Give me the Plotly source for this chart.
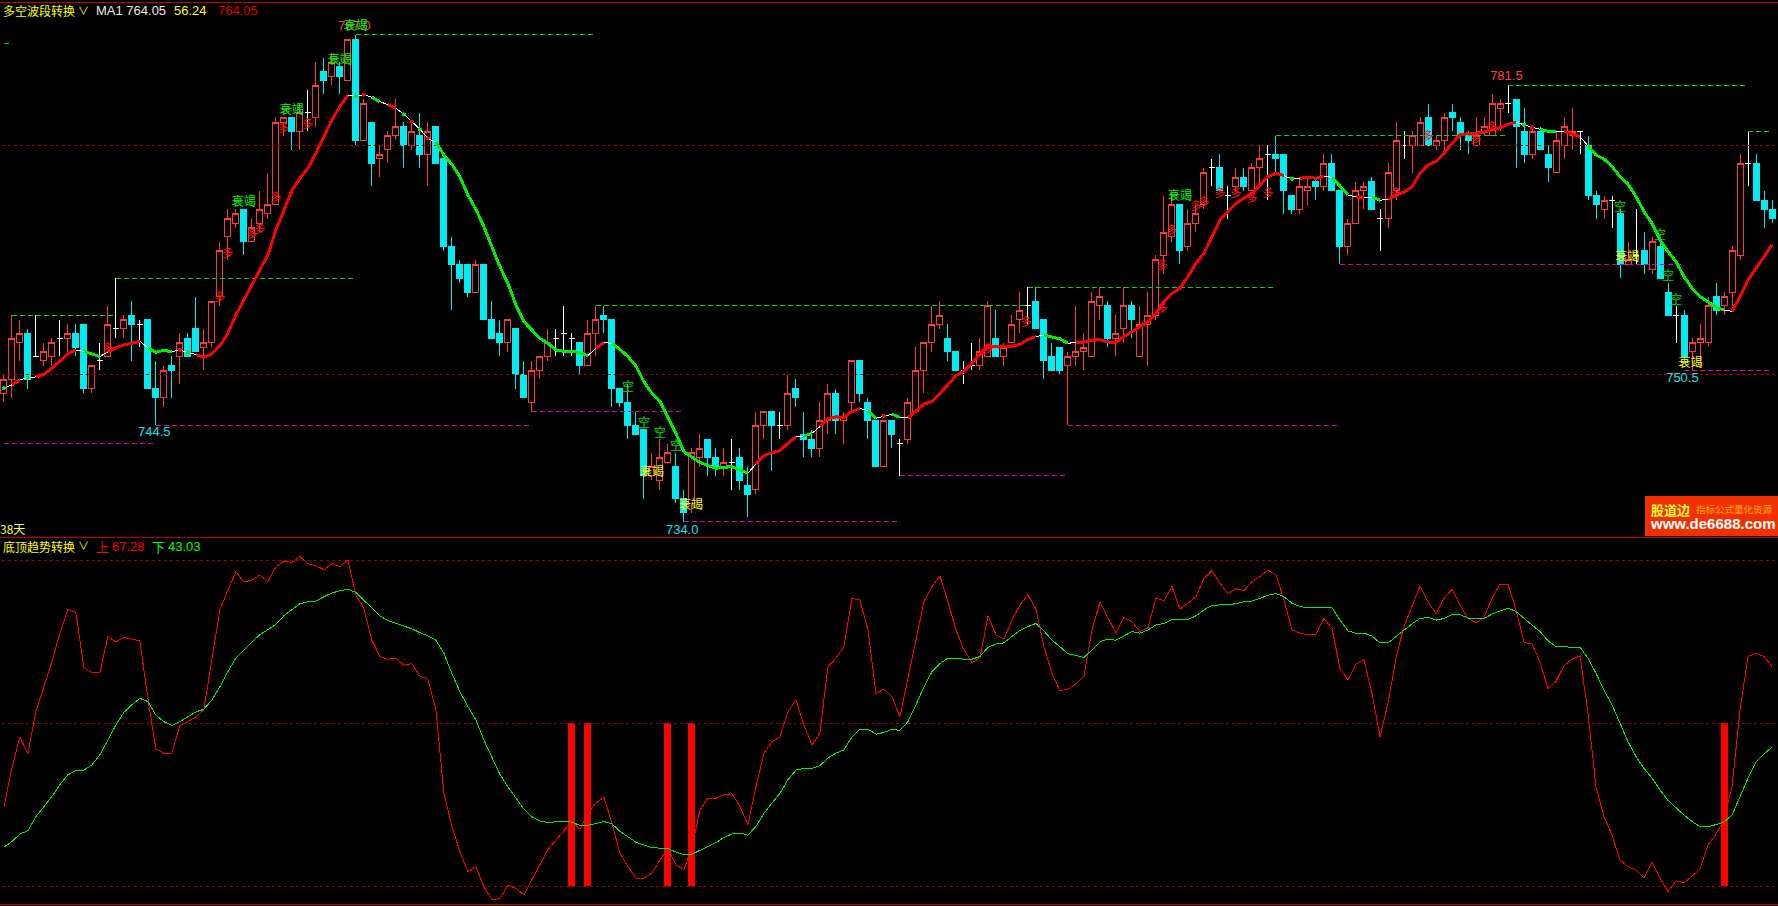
import plotly.graph_objects as go

W, H = 1778, 906
SPLIT = 537.6  # pixel row of the divider between the two panels

# ---------- candles (price) ----------
opens = [748,749.5,753.5,754.5,752,751.5,752,754,754,754.5,
755.5,748.5,751.5,752,755,755,756.5,755.5,756,748.5,
747.5,751,752,754,755,753,753.5,758.5,765,766.5,
768,764.5,766.5,767.5,768.5,777.5,778,776.5,778.5,778,
783,782.5,783.5,782,786.5,775.5,777.5,773.5,774.5,776,
777,775,776,774,777,773.5,764,762,762,759,
762,756,754.5,753.5,755,750,747,750.5,752,754,
754.5,754,753.5,751,754.5,756.5,756,748.5,747,744.5,
744,739,738.5,740.5,740,736.5,736,741,743,741,
740,740.5,741,738,737.5,744.5,746,744.5,744.5,748.5,
743.5,743,742,745,748,745,747,751.5,747,745,
740,745,742.5,743,746,750.5,753.5,755.5,754,752.5,
750.5,751,751,752,754,752,753.5,756,757.5,758,
756,752,753,751,752,752.5,752,757.5,757.5,754,
755,757.5,752,755.5,756.5,763,765,768.5,764,766.5,
768.5,772.5,772.5,769.5,770.5,771.5,770,772.5,774,774,
774,769.5,768,770,771,770.5,773,770,764,766.5,
770,771,767,767,770,775,775,775,778,775,
775.5,778.5,777.5,776,775,776.5,776,779,779.5,780,
776.5,774,776.5,774,772,775,776,776.5,775,769.5,
768,769,767.5,762,763,763.5,761.5,764,759,756.5,
756.5,752.5,753.5,753.5,758.5,757.5,759,763,773,773,
769,768]
highs = [750,756.5,756,755,756.5,753.5,754,756,755.5,755.5,
755.5,751,753.5,757.5,760.5,756.5,758,756,756,751.5,
751,752,754.5,754.5,758.5,755,758,764.5,768,768,
768,767,770,772,778,778,778,779.5,781,784,
784.5,785,784,786.5,787,780,777.5,775,776.5,780,
777.5,777.5,778.5,777.5,777,773.5,765,762.5,762,762.5,
762,758,756,756,755,751.5,751.5,752,755,755,
757.5,754.5,753.5,756,757.5,757.5,756,748.5,749,746,
744,741.5,743,742.5,741.5,737.5,742,743.5,743,742,
742,743,742,740,746,746,746,746,750,749.5,
746,744,747,749,748.5,746,751.5,751.5,747.5,745,
745,745,743,747.5,753,753.5,757.5,758,755.5,752.5,
751.5,753.5,754,758,757,753.5,756.5,759,759.5,759.5,
756,753.5,753,752.5,757.5,754.5,759,759.5,758,756.5,
759.5,758,757.5,759,763,769.5,770,768.5,768,768.5,
772.5,773.5,774,770.5,772.5,772.5,773,775,775,776,
774,769.5,771.5,771.5,771.5,774,774,770,767,771,
771,771.5,768,773,777.5,776.5,776.5,778,779.5,776,
778.5,779.5,778,776.5,778,778,780.5,780,781.5,780,
779,777,777,775,776.5,778,779,776.5,776,770,
769.5,769.5,768,764.5,768,765.5,765,765,760,757.5,
757,754,755.5,758.5,760,759,764,774,776.5,774,
770,769]
lows = [747,747.5,751.5,748.5,752,751,751,752,752.5,752,
748,748,750.5,752,754,754,751.5,753,748.5,744.5,
746.5,747.5,749,752,752.5,750.5,753,757.5,762.5,766,
763,764.5,765.5,767,768.5,776,774.5,774.5,776.5,777,
780.5,781.5,780.5,782,775,775.5,770.5,771.5,773,775.5,
772.5,774.5,772.5,770.5,773,763.5,757,760,758.5,759,
756,754,752,752.5,748.5,747.5,746,749.5,751.5,752,
752,752,750,751,752,754.5,746.5,746.5,743,743.5,
736.5,738.5,737.5,740.5,736,734,735,740,739,739,
739,737.5,737.5,734.5,737,743,739.5,743,744,746.5,
741,741,741,743.5,743.5,742.5,746,747,743,740,
740,742,739,742.5,746,748,752.5,755,751.5,750.5,
749,750.5,750.5,752,752,751,753.5,754.5,755.5,755,
749.5,750.5,750,744.5,751,750.5,752,756,753,752,
753.5,754,752,751,756,761,764.5,762,763.5,765.5,
768,770.5,770,767,770,770,770,770.5,769,772,
767.5,767.5,767.5,768.5,769,770,770,762,763,766.5,
768,768,763.5,766,769,773.5,772,775,775,774.5,
774.5,776.5,774.5,774,775,776,776,776.5,778.5,772.5,
773,773.5,774.5,771,772,773.5,774.5,774,769,767,
767,766,760.5,762,762,761,761,760.5,756.5,753.5,
751.5,750.5,751,753,756.5,756.5,757.5,762.5,770.5,769,
766,766.5]
closes = [749.5,754,754.5,749.5,752,752.5,753.5,754,754.5,753,
748.5,751,751.5,755.5,755,756,755.5,755.5,748.5,747.5,
750.5,750.5,753.5,752,752.5,753.5,758,763.5,767,767.5,
764.5,766,768,768.5,777.5,778,776.5,778.5,778.5,781.5,
782,784,782.5,786.5,775.5,779.5,773,774,776,777,
775,776.5,774,776.5,773,764,762,760.5,759,762,
756,754,753.5,756,750,747.5,750.5,752,753.5,754,
754.5,754,751,754.5,756,756,748.5,747,744.5,743.5,
739,740,741,741.5,736.5,735,741.5,742,741,740,
740.5,740.5,738.5,737,744.5,746,744.5,744.5,748,747.5,
743,742,745,748,745,745.5,751.5,748,745,740,
745,743.5,742.5,747,750.5,753.5,755.5,756.5,752.5,750.5,
750.5,751,752.5,757.5,752,753,755.5,757,757.5,755,
751.5,750.5,750.5,752,752.5,753,758,758.5,754,754.5,
757.5,756,755.5,756.5,762.5,765.5,768.5,763.5,766.5,767.5,
772,772.5,770,769.5,771.5,770.5,772.5,773.5,774,773.5,
770,768,770.5,770.5,770.5,773,770,764,766.5,770,
770.5,768,767,772,775.5,775,776,777.5,775,775.5,
778,778,776,775.5,776,777,779.5,779.5,779.5,777,
774,776.5,774.5,772.5,775.5,777,776.5,776.5,769.5,768.5,
769,769,762,762.5,763,762,764.5,760.5,756.5,756.5,
752,753.5,754,757.5,757,758.5,763.5,773,773,769,
768,767]

# ---------- MA1 line (price at each candle) ----------
ma1 = [748.53,748.9,749.43,749.7,749.76,750.05,750.7,751.5,752.26,752.7,
752.55,752.26,751.97,752.5,752.95,753.24,753.42,753.64,752.95,752.44,
752.66,752.5,752.7,752.44,752.2,751.9,752.26,753.13,754.5,756.5,
758.14,759.77,761.4,763.03,765.75,767.86,770.03,771.38,772.47,774.1,
775.9,777.72,779.18,780.44,780.3,780.48,780.19,779.72,779.39,779,
778.34,777.54,776.71,775.73,775.3,773.92,772.9,771.56,769.56,768,
766.12,763.94,761.77,759.95,757.6,755.78,754.87,753.97,753.42,752.7,
752.55,752.55,752.4,752.08,752.88,753.5,753.42,752.77,751.97,750.96,
749.25,747.98,747.08,745.44,743.63,741.63,741.09,740.47,740.11,739.82,
739.93,740,739.64,739.28,740.29,741.2,741.53,741.74,742.54,743.27,
743.34,743.63,744.35,745.26,745.41,745.37,745.99,746.35,746.1,745.26,
745.52,745.7,745.37,745.3,746.06,746.79,747.08,747.98,748.89,749.9,
750.41,751.25,752.26,753.13,753.13,753.1,753.1,753.3,753.86,754.15,
754.33,754.15,753.9,753.42,753.53,753.57,753.75,753.82,753.57,753.53,
754.15,754.69,755.16,755.78,756.69,757.96,758.86,759.41,760.68,762.13,
763.22,765.03,766.85,767.75,768.66,769.2,769.75,770.65,771.56,771.92,
771.67,771.31,771.38,771.49,771.38,771.6,771.49,770.55,769.57,769.35,
769.31,769.31,769,769.06,769.57,769.86,770.47,771.92,772.83,773.19,
774.1,775.19,776.1,776.24,776.28,776.42,776.64,776.89,777.26,777.47,
777.18,776.93,776.71,776.49,776.49,776.49,776.2,775.91,774.9,773.92,
773.48,772.65,771.56,770.76,769.39,767.75,766.48,764.67,763.4,762.31,
760.68,759.41,758.5,757.96,757.34,757.05,756.91,758.5,760.32,761.59,
762.86,764.13]
# trend runs along MA1: first candle, last candle, kind
ma_runs = [("w",0,1),("r",1,2),("w",2,4),("r",4,9),("w",9,10),("g",10,12),("w",12,13),
("r",13,17),("w",17,18),("g",18,21),("w",21,24),("r",24,43),("w",43,46),("g",46,47),
("w",47,48),("r",48,49),("w",49,54),("g",54,73),("w",73,74),("r",74,75),("w",75,76),
("g",76,93),("w",93,94),("r",94,99),("w",99,100),("g",100,101),("w",101,102),("r",102,107),
("w",107,108),("g",108,109),("w",109,111),("g",111,112),("w",112,113),("r",113,129),
("w",129,130),("g",130,133),("w",133,134),("r",134,160),("w",160,162),("r",162,165),
("w",165,166),("g",166,168),("w",168,169),("r",169,170),("w",170,171),("g",171,172),
("w",172,173),("r",173,189),("w",189,192),("g",192,194),("w",194,195),("r",195,197),
("w",197,198),("g",198,215),("w",215,216),("r",216,221)]
ma_green_dots = [0,3,23,44,50,52,161,190]
ma_red_dots = [22,45,51,53,110,191]

# ---------- support and resistance levels ----------
green_levels = [(0,1,786),(1,14,756.5),(14,44,760.5),(44,74,787),(74,128,757.5),
                (128,159,759.5),(159,188,776),(188,218,781.5),(218,221,776.5)]
magenta_levels = [(0,19,742.5),(19,66,744.5),(66,85,746),(85,112,734),(112,133,739),
                  (133,167,744.5),(167,210,762),(210,221,750.5)]
price_grid = [750, 775]
osc_grid = [20, 50, 80]

# ---------- text markers on the price panel ----------
fade_green_x = [30,36,42,44,147]
fade_green_y = [768.7,778.7,784.1,787.8,769.3]
fade_yellow_x = [81,85.9,202.9,210.8]
fade_yellow_y = [739.3,735.7,762.75,751.2]
long_x = [13,27,28,31,32,34,35,38,123,127.8,144.8,144.8,146,149,150,152,154,156,158,174,178,184,186]
long_y = [752.8,758.3,763.1,765.2,765.7,769.2,776.7,777.2,752.7,755.6,757.1,761.8,765.6,768.2,
          768.7,769.6,769.6,769.1,769.6,769.6,775.8,775.5,776.8]
short_x = [78,80,82,84,202,207,208,209]
short_y = [748.6,744.6,743.6,742.1,768.1,765.1,760.6,758]
high_labels = ["787.0","781.5"]
high_x = [43.8,187.8]
high_y = [787.85,782.4]
low_labels = ["744.5","734.0","750.5"]
low_x = [18.8,84.8,209.8]
low_y = [743.66,733.03,749.57]

# ---------- oscillator panel ----------
osc_up = [34.5,41.7,47.5,44.4,52.1,56.7,61.3,66.6,71.0,70.4,
60.3,59.3,59.3,66.0,65.0,65.8,65.5,65.2,54.6,45.3,
44.5,44.5,49.6,50.3,51.2,52.5,61.7,70.9,74.5,77.9,
76.0,76.4,77.3,76.1,78.8,79.9,79.6,80.7,79.4,79.0,
78.3,79.4,78.8,80.1,73.6,71.2,65.3,62.3,61.8,62.0,
60.7,61.0,58.7,58.1,52.5,37.1,31.0,26.4,22.7,23.6,
19.9,17.5,17.7,20.2,19.6,18.4,21.2,23.9,26.7,28.5,
30.1,31.9,30.5,33.4,35.3,36.4,31.6,26.1,23.6,21.5,
21.5,22.4,24.8,27.0,23.9,23.1,27.0,34.0,36.2,36.2,
36.8,37.0,34.7,31.3,38.3,44.5,46.6,47.5,52.1,54.3,
49.7,46.0,48.2,60.4,62.0,64.1,73.0,72.7,67.2,55.5,
56.3,54.9,51.2,58.0,65.3,72.4,75.2,77.1,72.4,67.2,
63.5,61.2,62.0,69.8,66.3,65.5,69.0,71.8,73.7,71.0,
64.1,59.2,56.0,56.3,57.2,58.7,67.2,72.3,69.3,66.6,
69.5,68.7,66.9,67.6,73.1,72.6,75.2,71.0,72.1,73.3,
76.7,78.1,75.8,73.9,74.8,74.4,76.1,77.0,78.2,77.4,
72.7,67.2,66.6,66.3,66.4,69.3,67.5,60.1,58.0,60.9,
61.7,55.5,47.5,53.7,62.0,67.8,71.5,75.3,72.4,70.2,
73.0,74.7,71.8,69.3,68.5,69.5,73.0,75.6,75.6,70.9,
64.9,64.6,61.3,56.4,57.7,60.6,61.8,62.4,51.8,38.3,
32.8,29.4,24.8,23.6,23.0,21.5,24.4,21.5,19.0,21.0,
20.6,21.8,23.1,27.6,29.6,32.2,38.3,52.5,62.3,62.9,
62.3,60.4]
osc_down = [27.2,28.2,29.6,30.2,32.8,34.7,36.5,38.7,40.5,41.3,
41.4,42.3,44.2,46.9,49.7,52.0,53.4,54.6,54.0,51.5,
50.3,49.6,50.3,51.2,52.1,52.6,54.3,56.7,59.5,62.0,
63.5,65.0,66.3,67.3,68.2,69.8,70.9,72.0,72.4,72.5,
73.3,74.0,74.4,74.7,74.1,72.7,71.2,69.8,68.9,68.4,
67.9,67.4,66.7,66.1,65.3,62.9,59.2,55.8,53.1,50.6,
46.9,43.9,40.6,38.3,36.2,34.2,32.8,32.0,31.7,31.8,
32.0,31.8,31.2,31.2,31.6,31.9,31.5,30.1,29.1,28.1,
27.6,27.1,27.0,26.9,26.3,25.8,25.9,26.6,27.2,28.0,
29.0,29.6,29.8,29.4,31.0,33.4,35.3,37.1,39.6,41.4,
41.7,41.7,42.2,43.6,44.5,45.1,47.5,48.9,48.9,48.0,
48.3,48.9,48.7,50.3,53.4,56.7,59.5,61.0,62.0,62.0,
61.8,61.8,62.3,64.0,64.6,64.8,66.0,67.1,67.8,68.4,
67.0,65.3,64.1,62.8,62.5,62.1,63.5,65.0,65.5,65.3,
66.1,66.9,66.6,67.2,68.1,68.4,69.1,69.1,69.1,69.8,
70.9,71.7,71.8,71.8,72.0,72.4,72.5,73.0,73.6,73.9,
73.3,72.1,71.5,71.3,71.3,71.3,71.3,69.0,67.0,66.6,
66.6,66.1,64.8,64.8,66.0,67.2,68.3,69.3,69.5,69.0,
69.3,70.0,70.0,69.4,69.2,69.3,70.1,70.7,71.2,70.6,
69.3,68.1,66.9,65.2,64.1,64.1,64.1,64.0,62.0,59.2,
56.1,53.4,50.0,46.6,43.9,41.7,39.9,37.7,35.8,34.4,
33.1,31.9,31.0,30.9,31.4,31.8,33.1,36.5,39.9,42.9,
44.4,45.6]
signal_x = [71,73,83,86,215]
signal_low = 20
signal_high = 50

RED, CYAN, WHITE = "#ff3838", "#00ecf0", "#ffffff"
CJK = "Noto Sans CJK SC, sans-serif"
NUM = "Liberation Sans, Noto Sans CJK SC, sans-serif"

n = min(len(opens), len(highs), len(lows), len(closes))
xs = list(range(n))
fig = go.Figure()

def hline(x0, x1, y, color, dash, width=1, ya="y", xa="x"):
    fig.add_trace(go.Scatter(x=[x0, x1], y=[y, y], mode="lines", xaxis=xa, yaxis=ya,
                             line=dict(color=color, width=width, dash=dash), hoverinfo="skip"))

for p in price_grid:
    hline(-1, 222, p, "#a00000", "3px,3px")
for v in osc_grid:
    hline(-1, 222, v, "#a00000", "3px,3px", ya="y2", xa="x2")

def candles(idx, color, fill):
    fig.add_trace(go.Candlestick(
        x=idx, open=[opens[i] for i in idx], high=[highs[i] for i in idx],
        low=[lows[i] for i in idx], close=[closes[i] for i in idx],
        whiskerwidth=0, hoverinfo="skip",
        increasing=dict(line=dict(color=color, width=1), fillcolor=fill),
        decreasing=dict(line=dict(color=color, width=1), fillcolor=fill)))

candles([i for i in xs if closes[i] > opens[i]], RED, "#000000")
candles([i for i in xs if closes[i] < opens[i]], CYAN, CYAN)
candles([i for i in xs if closes[i] == opens[i]], WHITE, WHITE)

for x0, x1, p in green_levels:
    hline(x0, x1, p, "#00e000", "5px,3px")
for x0, x1, p in magenta_levels:
    hline(x0, x1, p, "#e000b0", "5px,3px")

styles = {"r": ("#ff0000", 3), "g": ("#00ee00", 3), "w": ("#ffffff", 1)}
for kind, a, b in ma_runs:
    c, w = styles[kind]
    fig.add_trace(go.Scatter(x=list(range(a, b + 1)), y=ma1[a:b + 1], mode="lines",
                             line=dict(color=c, width=w), hoverinfo="skip"))
fig.add_trace(go.Scatter(x=ma_green_dots, y=[ma1[i] for i in ma_green_dots], mode="markers",
                         marker=dict(color="#00ee00", size=4), hoverinfo="skip"))
fig.add_trace(go.Scatter(x=ma_red_dots, y=[ma1[i] for i in ma_red_dots], mode="markers",
                         marker=dict(color="#ff0000", size=4), hoverinfo="skip"))

def labels(x, y, text, color, size, family=CJK):
    fig.add_trace(go.Scatter(x=x, y=y, mode="text", text=text, textposition="middle center",
                             textfont=dict(color=color, size=size, family=family), hoverinfo="skip"))

labels(long_x, long_y, ["多"] * len(long_x), "#ff1010", 11)
labels(short_x, short_y, ["空"] * len(short_x), "#00e000", 12)
labels(high_x, high_y, high_labels, "#ff4040", 13, NUM)
labels(low_x, low_y, low_labels, "#20e0f0", 13, NUM)
labels(fade_green_x, fade_green_y, ["衰竭"] * len(fade_green_x), "#00ff00", 12)
labels(fade_yellow_x, fade_yellow_y, ["衰竭"] * len(fade_yellow_x), "#ffff00", 12)

fig.add_trace(go.Bar(x=signal_x, base=[signal_low] * len(signal_x),
                     y=[signal_high - signal_low] * len(signal_x), width=0.875,
                     marker=dict(color="#ff0000", line=dict(width=0)), xaxis="x2", yaxis="y2", hoverinfo="skip"))
fig.add_trace(go.Scatter(x=list(range(len(osc_up))), y=osc_up, mode="lines", xaxis="x2", yaxis="y2",
                         line=dict(color="#ff0000", width=1), hoverinfo="skip"))
fig.add_trace(go.Scatter(x=list(range(len(osc_down))), y=osc_down, mode="lines", xaxis="x2", yaxis="y2",
                         line=dict(color="#00ee00", width=1), hoverinfo="skip"))

def note(px, py, text, color, size, family=NUM, anchor="left", bold=False):
    t = f"<b>{text}</b>" if bold else text
    fig.add_annotation(x=px / W, y=1 - py / H, xref="paper", yref="paper", text=t, showarrow=False,
                       xanchor=anchor, yanchor="middle", font=dict(color=color, size=size, family=family),
                       borderpad=0, borderwidth=0)

note(3, 11, "多空波段转换", "#ffff00", 12, CJK)
note(78, 11, "∨", "#ffff00", 11, NUM)
note(96, 11, "MA1 764.05", "#e8e8e8", 13)
note(174, 11, "56.24", "#ffff00", 13)
note(218, 11, "764.05", "#e00000", 13)
note(0, 528, "38天", "#ffff40", 12, CJK)
note(3, 546, "底顶趋势转换", "#ffff00", 12, CJK)
note(78, 546, "∨", "#ffff00", 11, NUM)
note(96, 546, "上", "#ff0000", 13, CJK)
note(112, 546, "67.28", "#ff0000", 13)
note(152, 546, "下", "#00ff00", 13, CJK)
note(168, 546, "43.03", "#00ff00", 13)
note(1651, 509, "股道边", "#ffff30", 13, CJK, bold=True)
note(1696, 509, "指标公式量化资源", "#ffb000", 9.5, CJK)
note(1713, 523.5, "www.de6688.com", "#ffffff", 15, "Liberation Sans", "center", bold=True)

def rule(py, color="#c00000", width=1):
    return dict(type="line", xref="paper", yref="paper", x0=0, x1=1, y0=1 - py / H, y1=1 - py / H,
                line=dict(color=color, width=width), layer="above")

shapes = [rule(2.5), rule(SPLIT), rule(904),
          dict(type="rect", xref="paper", yref="paper", x0=1645 / W, x1=1, y0=1 - 536 / H, y1=1 - 496 / H,
               fillcolor="#f03000", line=dict(width=0), layer="above")]

axis = dict(visible=False, fixedrange=True)
fig.update_layout(
    width=W, height=H, margin=dict(l=0, r=0, t=0, b=0), showlegend=False,
    paper_bgcolor="#000000", plot_bgcolor="#000000", boxgap=0.25, boxgroupgap=0, boxmode="overlay",
    shapes=shapes, barmode="overlay",
    xaxis=dict(range=[-0.48, 221.745], domain=[0, 1], anchor="y", rangeslider=dict(visible=False), **axis),
    yaxis=dict(range=[732.28, 790.78], domain=[1 - SPLIT / H, 1], anchor="x", **axis),
    xaxis2=dict(range=[-0.48, 221.745], domain=[0, 1], anchor="y2", **axis),
    yaxis2=dict(range=[16.35, 84.2], domain=[0, 1 - SPLIT / H], anchor="x2", **axis),
)

post = """
document.documentElement.style.margin='0';document.body.style.margin='0';
document.documentElement.style.background='#000';document.body.style.background='#000';document.body.style.overflow='hidden';
var s=document.createElement('style');
s.textContent='.main-svg path,.main-svg line,.main-svg rect{shape-rendering:crispEdges}';
document.head.appendChild(s);
"""
fig.write_html("out.html", config=dict(displayModeBar=False), post_script=post)
